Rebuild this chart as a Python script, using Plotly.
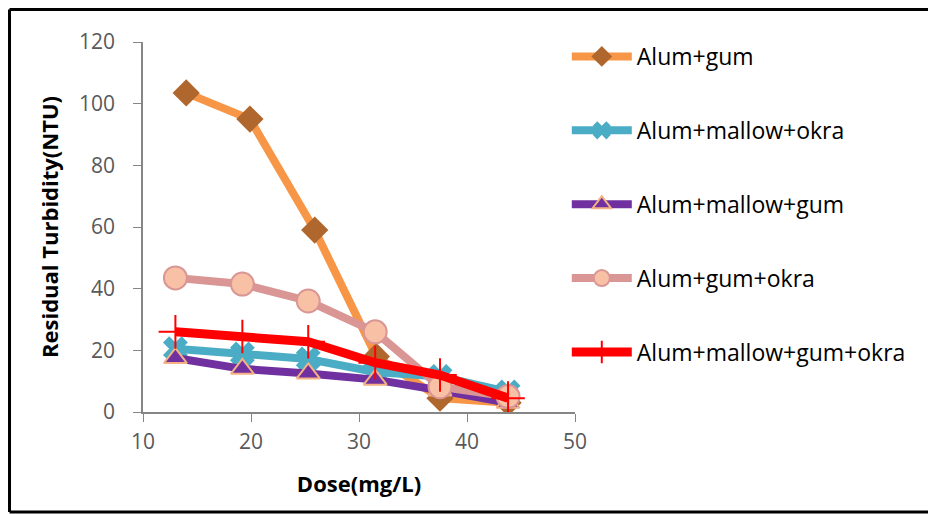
import plotly.graph_objects as go

dose_gum = [14.0, 19.9, 25.9, 31.6, 37.5, 43.8]
dose = [13.0, 19.2, 25.3, 31.5, 37.5, 43.8]

alum_gum = [103.5, 95.0, 59.0, 18.0, 4.5, 3.0]
alum_mallow_okra = [20.5, 18.8, 17.2, 13.0, 11.5, 6.5]
alum_mallow_gum = [17.5, 14.0, 12.5, 10.5, 7.0, 3.0]
alum_gum_okra = [43.5, 41.5, 36.0, 26.0, 8.2, 5.0]
alum_all = [26.0, 24.5, 22.8, 16.0, 12.0, 4.5]

names = ["Alum+gum", "Alum+mallow+okra", "Alum+mallow+gum", "Alum+gum+okra", "Alum+mallow+gum+okra"]

fig = go.Figure()
fig.add_trace(go.Scatter(x=dose_gum, y=alum_gum, name=names[0], mode="lines+markers",
    line=dict(color="#F79646", width=8),
    marker=dict(symbol="diamond", size=21, color="#B0672E", line=dict(width=0)),
    legendgroup="a"))
fig.add_trace(go.Scatter(x=dose, y=alum_mallow_okra, name=names[1], mode="lines+markers",
    line=dict(color="#4BACC6", width=8),
    marker=dict(symbol="x", size=22, color="#4BACC6", line=dict(width=0)),
    legendgroup="b"))
fig.add_trace(go.Scatter(x=dose, y=alum_mallow_gum, name=names[2], mode="lines+markers",
    line=dict(color="#7030A0", width=8),
    marker=dict(symbol="triangle-up", size=20, color="#7030A0", line=dict(width=2, color="#F4B183")),
    legendgroup="c"))
fig.add_trace(go.Scatter(x=dose, y=alum_gum_okra, name=names[3], mode="lines+markers",
    line=dict(color="#D99694", width=8),
    marker=dict(symbol="circle", size=23, color="#F8C1A6", line=dict(width=2, color="#D99694")),
    legendgroup="d"))
fig.add_trace(go.Scatter(x=dose, y=alum_all, name=names[4], mode="lines+markers",
    line=dict(color="#FF0000", width=9),
    marker=dict(symbol="cross-thin", size=24, color="#FF0000", line=dict(width=2, color="#FF0000")),
    legendgroup="e"))

axis_font = dict(family="Open Sans, sans-serif", size=21, color="#595959")
title_font = dict(family="Open Sans, sans-serif", size=22, color="#000000")

border = dict(color="#000000", width=3)
bx0, bx1, by0, by1 = -0.309, 2.2, -0.2703, 1.0878

fig.update_layout(
    width=936, height=514,
    margin=dict(l=135, r=369, t=34, b=110, autoexpand=False),
    plot_bgcolor="white", paper_bgcolor="white",
    showlegend=True,
    legend=dict(x=0.981, xanchor="left", y=1.019, yanchor="top",
                font=dict(family="Open Sans, sans-serif", size=23, color="#000000"),
                tracegroupgap=41, itemwidth=60, bgcolor="rgba(0,0,0,0)", maxheight=500),
    xaxis=dict(range=[10, 50], tickvals=[10, 20, 30, 40, 50], showgrid=False, zeroline=False,
               showline=True, linecolor="#868686", linewidth=1.5, ticks="outside", ticklen=8,
               tickcolor="#868686", tickfont=axis_font, ticklabelstandoff=2,
               title=dict(text="<b>Dose(mg/L)</b>", font=title_font, standoff=23)),
    yaxis=dict(range=[0, 120], tickvals=[0, 20, 40, 60, 80, 100, 120], showgrid=False, zeroline=False,
               showline=True, linecolor="#868686", linewidth=1.5, ticks="outside", ticklen=8,
               tickcolor="#868686", tickfont=axis_font, ticklabelstandoff=14,
               title=dict(text="<b>Residual Turbidity(NTU)</b>", font=title_font, standoff=14)),
    shapes=[
        dict(type="line", xref="paper", yref="paper", x0=bx0, x1=bx0, y0=by0, y1=by1, line=border, layer="below"),
        dict(type="line", xref="paper", yref="paper", x0=bx0, x1=bx1, y0=by1, y1=by1, line=border, layer="below"),
        dict(type="line", xref="paper", yref="paper", x0=bx0, x1=bx1, y0=by0, y1=by0, line=border, layer="below"),
    ],
)

fig.write_html("out.html")
